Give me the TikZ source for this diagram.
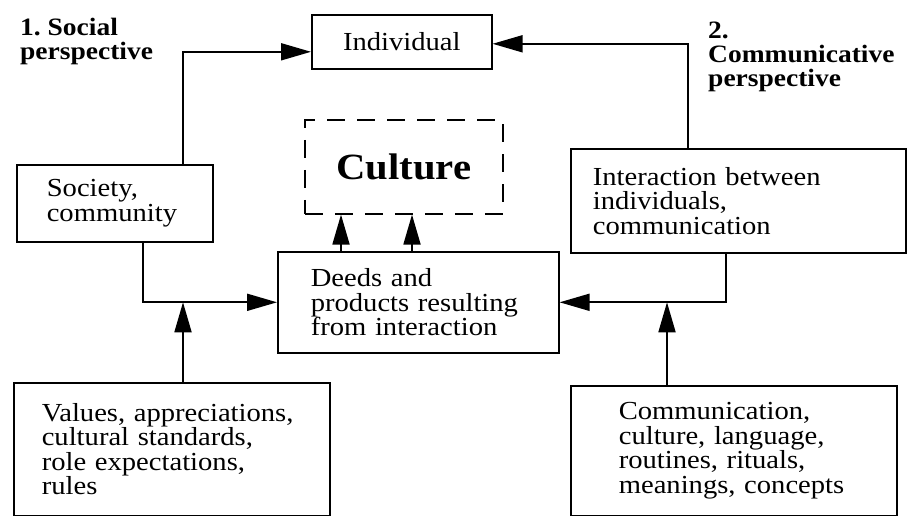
\documentclass[tikz,border=0pt]{standalone}
\usepackage{fontspec}
\setmainfont{Liberation Serif}[FakeStretch=1.1]
\usepackage{tikz}
\usetikzlibrary{positioning, arrows.meta}

\begin{document}
\begin{tikzpicture}[
  x=1pt, y=-1pt,
  font=\fontsize{26}{24.5}\selectfont,
  box/.style={draw, line width=1.6pt, anchor=north west, align=left, inner ysep=2pt},
  cbox/.style={draw, line width=1.6pt, anchor=north west, align=center, inner sep=0pt},
  lbl/.style={anchor=north west, align=left, inner sep=0pt, font=\fontsize{25}{24}\selectfont\bfseries},
  op/.style={-{Triangle[length=30pt, width=17pt]}, line width=1.8pt}
]
  \useasboundingbox (0,0) rectangle (907,516);

  % perspectives
  \node[lbl] (lsoc) at (20,18) {1.\ Social\\perspective};
  \node[lbl] (lcom) at (708,22) {2.\\Communicative\\perspective};

  % boxes
  \node[cbox, minimum width=180pt, minimum height=54pt] (ind) at (311,14) {Individual};
  \node[cbox, dashed, dash pattern=on 18pt off 12pt, minimum width=198pt, minimum height=94pt,
        font=\fontsize{37}{36}\selectfont\bfseries] (cul) at (304,119) {Culture};
  \node[box, minimum height=77pt, text width=136pt, inner xsep=30pt] (soc) at (16,164) {Society,\\community};
  \node[box, minimum height=101pt, text width=215pt, inner xsep=33pt] (deeds) at (277,251)
    {Deeds and\\products resulting\\from interaction};
  \node[box, minimum height=104pt, text width=291pt, inner xsep=22pt] (int) at (570,148)
    {Interaction between\\individuals,\\communication};
  \node[box, minimum height=133pt, text width=260pt, inner xsep=28pt] (val) at (13,382)
    {Values, appreciations,\\cultural standards,\\role expectations,\\rules};
  \node[box, minimum height=130pt, text width=230pt, inner xsep=48pt] (com) at (570,385)
    {Communication,\\culture, language,\\routines, rituals,\\meanings, concepts};

  % columns of the connectors
  \coordinate (sx) at (183,0);
  \coordinate (sbx) at (143,0);
  \coordinate (ix) at (688,0);
  \coordinate (ibx) at (726,0);
  \coordinate (cx) at (667,0);
  \coordinate (a1) at (341,0);
  \coordinate (a2) at (412,0);

  \draw[op] (soc.north -| sx) |- ([yshift=-10pt]ind.west);
  \draw[op] (int.north -| ix) |- ([yshift=-2pt]ind.east);
  \draw[op] (soc.south -| sbx) |- (deeds.west);
  \draw[op] (val.north -| sx) -- (deeds.west -| sx);
  \draw[op] (int.south -| ibx) |- (deeds.east);
  \draw[op] (com.north -| cx) -- (deeds.east -| cx);
  \draw[op] (deeds.north -| a1) -- (cul.south -| a1);
  \draw[op] (deeds.north -| a2) -- (cul.south -| a2);
\end{tikzpicture}
\end{document}
